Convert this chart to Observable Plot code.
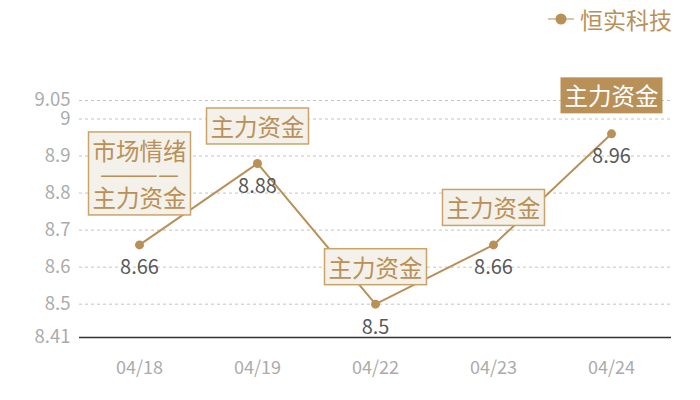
<!DOCTYPE html>
<html><head><meta charset="utf-8">
<script src="https://cdn.jsdelivr.net/npm/d3@7"></script>
<script src="https://cdn.jsdelivr.net/npm/@observablehq/plot@0.6"></script>
<style>
body{margin:0;background:#fff;font-family:"Noto Sans CJK SC","Noto Sans",sans-serif}
#wrap{position:relative;width:700px;height:400px}
#legend{position:absolute;top:4px;left:548px;display:flex;align-items:center;font-size:23px;color:#b99158;line-height:30px}
#legend svg{margin-right:6px}
</style></head>
<body>
<div id="wrap">
<div id="legend"><svg width="26" height="14"><line x1="0" y1="7" x2="26" y2="7" stroke="#dcc6a0" stroke-width="2"/><circle cx="13" cy="7" r="5.5" fill="#b99158"/></svg><span>恒实科技</span></div>
</div>
<script>
const dates = ["04/18","04/19","04/22","04/23","04/24"];
const prices = [8.66, 8.88, 8.5, 8.66, 8.96];
const annotations = ["市场情绪\n————\n主力资金","主力资金","主力资金","主力资金","主力资金"];
const highlighted = [false,false,false,false,true];
const yTicks = [8.41,8.5,8.6,8.7,8.8,8.9,9,9.05];

const data = dates.map((d,i)=>({date:d, price:prices[i], anno:annotations[i], hl:highlighted[i]}));
const gold = "#b99158";
const font = '"Noto Sans CJK SC","Noto Sans",sans-serif';

const chart = Plot.plot({
  width:700, height:400,
  marginTop:100, marginBottom:63, marginLeft:79, marginRight:29,
  style:{fontFamily:font, background:"transparent"},
  x:{type:"band", domain:dates, padding:0, label:null},
  y:{domain:[8.41,9.05], label:null},
  marks:[
    Plot.gridY(yTicks.filter(t=>t!==8.41), {stroke:"#c4c4c4", strokeOpacity:1, strokeDasharray:"3,3"}),
    Plot.ruleY([8.41], {stroke:"#333", strokeWidth:1.5}),
    Plot.axisY(yTicks, {tickSize:0, tickPadding:9, fontSize:18.5, fill:"#ababab", tickFormat:d=>String(d), label:null}),
    Plot.axisX({tickSize:0, tickPadding:24, fontSize:18, fill:"#ababab", label:null}),
    Plot.line(data, {x:"date", y:"price", stroke:gold, strokeWidth:2}),
    Plot.dot(data, {x:"date", y:"price", r:4.5, fill:gold}),
    Plot.text(data, {x:"date", y:"price", text:d=>String(d.price), dy:23, fontSize:20, fill:"#595959"}),
    Plot.text(data.filter(d=>d.anno.includes("\n")), {x:"date", y:"price", text:"anno", dy:-69, fontSize:23.5, lineHeight:1.0, fill:gold, ariaDescription:"anno-light"}),
    Plot.text(data.filter(d=>!d.hl && !d.anno.includes("\n")), {x:"date", y:"price", text:"anno", dy:-35, fontSize:23.5, fill:gold, ariaDescription:"anno-light"}),
    Plot.text(data.filter(d=>d.hl), {x:"date", y:"price", text:"anno", dy:-36, fontSize:23.5, fill:"#ffffff", ariaDescription:"anno-dark"})
  ]
});
document.getElementById("wrap").append(chart);

function boxes(sel, fill, stroke){
  chart.querySelectorAll(`g[aria-description="${sel}"] text`).forEach(t=>{
    const b = t.getBBox();
    const r = document.createElementNS("http://www.w3.org/2000/svg","rect");
    r.setAttribute("x", b.x-4);
    r.setAttribute("y", b.y-1);
    r.setAttribute("width", b.width+8);
    r.setAttribute("height", b.height+2);
    r.setAttribute("fill", fill);
    r.setAttribute("stroke", stroke);
    r.setAttribute("stroke-width", 1.5);
    const tr = t.getAttribute("transform");
    if (tr) r.setAttribute("transform", tr);
    t.parentNode.insertBefore(r, t);
  });
}
boxes("anno-light", "#f4f0ea", "#c9a46a");
boxes("anno-dark", gold, "none");
</script>
</body></html>
